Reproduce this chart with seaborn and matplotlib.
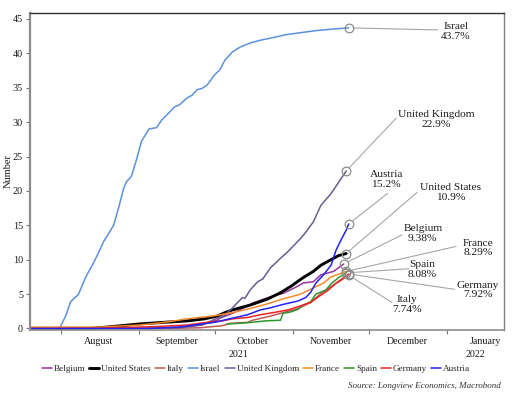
import matplotlib
matplotlib.use("Agg")
import matplotlib.pyplot as plt
import matplotlib.dates as mdates
import matplotlib.transforms as mtransforms
import pandas as pd
import seaborn as sns

# ---------------- data ----------------
countries = ["Belgium", "United States", "Italy", "Israel", "United Kingdom",
             "France", "Spain", "Germany", "Austria"]

israel_dates = ["2021-07-20", "2021-07-31", "2021-08-01", "2021-08-03", "2021-08-05", "2021-08-07",
                "2021-08-08", "2021-08-11", "2021-08-14", "2021-08-16", "2021-08-18", "2021-08-20",
                "2021-08-22", "2021-08-24", "2021-08-26", "2021-08-27", "2021-08-29", "2021-08-31",
                "2021-09-02", "2021-09-04", "2021-09-05", "2021-09-08", "2021-09-10", "2021-09-13",
                "2021-09-15", "2021-09-17", "2021-09-20", "2021-09-22", "2021-09-24", "2021-09-26",
                "2021-09-28", "2021-10-01", "2021-10-03", "2021-10-05", "2021-10-08", "2021-10-11",
                "2021-10-15", "2021-10-19", "2021-10-23", "2021-10-29", "2021-11-04", "2021-11-10",
                "2021-11-16", "2021-11-23"]
israel_vals = [0.0, 0.1, 0.3, 1.8, 3.9, 4.6, 4.9, 7.5, 9.5, 11.0, 12.6, 13.8, 15.0, 17.6, 20.4, 21.3,
               22.1, 24.5, 27.2, 28.4, 29.0, 29.2, 30.3, 31.4, 32.2, 32.5, 33.5, 33.9, 34.7, 34.9,
               35.4, 36.9, 37.6, 39.0, 40.2, 40.9, 41.5, 41.9, 42.2, 42.7, 43.0, 43.3, 43.5, 43.7]

uk_dates = ["2021-07-20", "2021-08-15", "2021-09-01", "2021-09-17", "2021-09-26", "2021-10-02",
            "2021-10-05", "2021-10-06", "2021-10-08", "2021-10-09", "2021-10-12", "2021-10-13",
            "2021-10-15", "2021-10-18", "2021-10-20", "2021-10-23", "2021-10-27", "2021-10-30",
            "2021-11-04", "2021-11-06", "2021-11-09", "2021-11-12", "2021-11-16", "2021-11-22"]
uk_vals = [0.0, 0.0, 0.05, 0.1, 0.5, 1.5, 1.9, 2.3, 3.0, 3.4, 4.5, 4.4, 5.6, 6.8, 7.2, 8.8, 10.2,
           11.2, 13.1, 14.0, 15.5, 17.9, 19.6, 22.9]

us_dates = ["2021-07-20", "2021-08-13", "2021-08-22", "2021-09-01", "2021-09-11", "2021-09-20",
            "2021-09-27", "2021-10-02", "2021-10-05", "2021-10-08", "2021-10-15", "2021-10-22",
            "2021-10-27", "2021-10-31", "2021-11-05", "2021-11-09", "2021-11-12", "2021-11-16",
            "2021-11-19", "2021-11-22"]
us_vals = [0.0, 0.0, 0.3, 0.65, 0.9, 1.1, 1.4, 1.8, 2.3, 2.7, 3.4, 4.3, 5.2, 6.1, 7.4, 8.3, 9.2,
           10.0, 10.6, 10.9]

belgium_dates = ["2021-07-20", "2021-09-05", "2021-09-17", "2021-09-25", "2021-09-28", "2021-10-02",
                 "2021-10-03", "2021-10-08", "2021-10-12", "2021-10-16", "2021-10-23", "2021-10-28",
                 "2021-11-01", "2021-11-05", "2021-11-09", "2021-11-12", "2021-11-17", "2021-11-21"]
belgium_vals = [0.0, 0.0, 0.2, 0.5, 0.8, 1.2, 1.5, 2.2, 2.9, 3.7, 4.6, 5.1, 5.8, 6.6, 6.8, 7.8,
                8.3, 9.38]

france_dates = ["2021-07-20", "2021-08-16", "2021-09-01", "2021-09-09", "2021-09-15", "2021-09-20",
                "2021-09-25", "2021-09-30", "2021-10-08", "2021-10-15", "2021-10-22", "2021-10-28",
                "2021-11-04", "2021-11-09", "2021-11-13", "2021-11-16", "2021-11-22"]
france_vals = [0.2, 0.2, 0.5, 0.8, 1.1, 1.4, 1.6, 1.8, 2.3, 2.9, 3.6, 4.3, 5.0, 5.9, 6.6, 7.5, 8.29]

spain_dates = ["2021-10-06", "2021-10-13", "2021-10-21", "2021-10-27", "2021-10-28", "2021-10-31",
               "2021-11-03", "2021-11-04", "2021-11-08", "2021-11-10", "2021-11-14", "2021-11-16",
               "2021-11-19", "2021-11-22"]
spain_vals = [0.65, 0.8, 1.1, 1.2, 2.2, 2.4, 2.8, 3.2, 3.9, 5.0, 5.6, 6.5, 7.4, 8.08]

germany_dates = ["2021-07-20", "2021-08-16", "2021-09-01", "2021-09-09", "2021-09-20", "2021-09-28",
                 "2021-10-04", "2021-10-08", "2021-10-14", "2021-10-19", "2021-10-24", "2021-10-30",
                 "2021-11-04", "2021-11-08", "2021-11-11", "2021-11-15", "2021-11-18", "2021-11-23"]
germany_vals = [0.0, 0.05, 0.2, 0.3, 0.5, 0.9, 1.1, 1.4, 1.6, 2.0, 2.3, 2.7, 3.3, 3.8, 4.6, 5.6,
                6.6, 7.92]

italy_dates = ["2021-07-20", "2021-09-17", "2021-09-25", "2021-10-04", "2021-10-07", "2021-10-14",
               "2021-10-16", "2021-10-23", "2021-10-28", "2021-11-03", "2021-11-08", "2021-11-12",
               "2021-11-16", "2021-11-20", "2021-11-23"]
italy_vals = [0.0, 0.05, 0.1, 0.4, 0.75, 0.9, 1.2, 1.8, 2.3, 2.9, 3.8, 5.1, 6.1, 7.0, 7.74]

austria_dates = ["2021-07-20", "2021-09-05", "2021-09-17", "2021-09-25", "2021-10-01", "2021-10-08",
                 "2021-10-14", "2021-10-19", "2021-10-23", "2021-10-28", "2021-11-03", "2021-11-06",
                 "2021-11-08", "2021-11-10", "2021-11-13", "2021-11-16", "2021-11-18", "2021-11-20",
                 "2021-11-22", "2021-11-23"]
austria_vals = [0.0, 0.0, 0.2, 0.6, 0.9, 1.5, 2.0, 2.7, 3.0, 3.5, 4.0, 4.5, 5.3, 6.6, 7.8, 9.2,
                11.4, 12.9, 14.3, 15.2]

series = {
    "Belgium": (belgium_dates, belgium_vals),
    "United States": (us_dates, us_vals),
    "Italy": (italy_dates, italy_vals),
    "Israel": (israel_dates, israel_vals),
    "United Kingdom": (uk_dates, uk_vals),
    "France": (france_dates, france_vals),
    "Spain": (spain_dates, spain_vals),
    "Germany": (germany_dates, germany_vals),
    "Austria": (austria_dates, austria_vals),
}

month_labels = ["August", "September", "October", "November", "December", "January"]
year_labels = ["2021", "2022"]
y_ticks = [0, 5, 10, 15, 20, 25, 30, 35, 40, 45]

colors = {
    "Belgium": "#9A2FA0",
    "United States": "#000000",
    "Italy": "#BD5A55",
    "Israel": "#5B91DE",
    "United Kingdom": "#6B5A94",
    "France": "#F5892A",
    "Spain": "#2E962E",
    "Germany": "#F02323",
    "Austria": "#2222F2",
}

# label offsets (points): line end, text centre
label_layout = {
    "Israel": ((64, -1.5), (77, -2.5)),
    "United Kingdom": ((36, 38), (65, 37)),
    "Austria": ((28, 22), (27, 32)),
    "United States": ((51, 44), (75, 44)),
    "Belgium": ((42, 21), (57, 22)),
    "France": ((79, 18), (95, 17)),
    "Spain": ((45, 3), (55, 2.5)),
    "Germany": ((76, -11), (93, -11.5)),
    "Italy": ((31, -19.5), (42, -21)),
}

# ---------------- plot ----------------
sns.set_theme(style="white")
plt.rcParams["font.family"] = ["Liberation Serif", "DejaVu Serif"]

fig = plt.figure(figsize=(5.2, 3.99), dpi=100)
ax = fig.add_axes([30 / 520, 1 - 330 / 399, 474 / 520, 317 / 399])

for name in countries:
    d, v = series[name]
    df = pd.DataFrame({"date": pd.to_datetime(d), "value": v})
    lw = 2.1 if name == "United States" else 1.1
    sns.lineplot(data=df, x="date", y="value", ax=ax, color=colors[name], lw=lw, label=name,
                 legend=False)

# end markers and labels
for name in countries:
    d, v = series[name]
    x_end = mdates.date2num(pd.Timestamp(d[-1]))
    y_end = v[-1]
    (lx, ly), (tx, ty) = label_layout[name]
    ax.annotate("", xy=(x_end, y_end), xytext=(lx, ly), textcoords="offset points",
                arrowprops=dict(arrowstyle="-", color="#A6A6A6", lw=0.8, shrinkA=0, shrinkB=3.2))
    ax.plot([x_end], [y_end], marker="o", ms=6.2, mfc="none", mec="#8C8C8C", mew=0.9,
            zorder=5)
    ax.annotate(f"{name}\n{y_end:.3g}%", xy=(x_end, y_end), xytext=(tx, ty),
                textcoords="offset points", ha="center", va="center", fontsize=8.2,
                linespacing=1.05, color="#1A1A1A")

x_left = pd.Timestamp("2021-07-19 22:00")
x_right = pd.Timestamp("2022-01-23 10:00")
ax.set_xlim(x_left, x_right)
ax.set_ylim(-0.22, 45.86)

ax.set_yticks(y_ticks)
ax.set_yticklabels([str(t) for t in y_ticks], fontsize=7.3, color="#1A1A1A")
ax.set_ylabel("Number", fontsize=7.5, color="#1A1A1A")
ax.yaxis.set_label_coords(-17 / 474, 0.5)
ax.set_xlabel("")

ax.xaxis.set_major_locator(mdates.MonthLocator(bymonth=[8, 9, 10, 11, 12, 1]))
ax.xaxis.set_major_formatter(plt.NullFormatter())
ax.xaxis.set_minor_locator(mdates.MonthLocator(bymonth=[8, 9, 10, 11, 12, 1], bymonthday=16))
ax.xaxis.set_minor_formatter(plt.FixedFormatter(month_labels))
ax.tick_params(axis="x", which="major", direction="out", length=3, width=0.8, color="#777777",
               bottom=True)
ax.tick_params(axis="x", which="minor", length=0, labelsize=7.2, labelcolor="#1A1A1A", pad=5)
ax.tick_params(axis="y", direction="out", length=3, width=0.8, color="#777777", left=True,
               pad=2)

# year labels centred on their span of the visible axis
jan1 = pd.Timestamp("2022-01-01")
trans = mtransforms.blended_transform_factory(ax.transData, ax.transAxes)
y2021 = x_left + (jan1 - x_left) / 2
y2022 = jan1 + (x_right - jan1) / 2
for xc, lab in zip([y2021, y2022], year_labels):
    ax.text(xc, -0.062, lab, transform=trans, ha="center", va="top", fontsize=7.2,
            color="#1A1A1A")

for side, col, lw in [("top", "#333333", 1.0), ("right", "#808080", 1.0),
                      ("left", "#8C8C8C", 1.6), ("bottom", "#8C8C8C", 1.2)]:
    ax.spines[side].set_visible(True)
    ax.spines[side].set_color(col)
    ax.spines[side].set_linewidth(lw)

handles, labels = ax.get_legend_handles_labels()
fig.legend(handles, labels, loc="center", bbox_to_anchor=(256 / 520, 1 - 369 / 399),
           ncol=9, frameon=False, fontsize=6.6, handlelength=1.1, handletextpad=0.2,
           columnspacing=0.45, borderaxespad=0)

fig.text(501 / 520, 1 - 386 / 399, "Source: Longview Economics, Macrobond", ha="right",
         va="center", fontsize=6.5, style="italic", color="#333333")

fig.savefig("out.png", dpi=100)
